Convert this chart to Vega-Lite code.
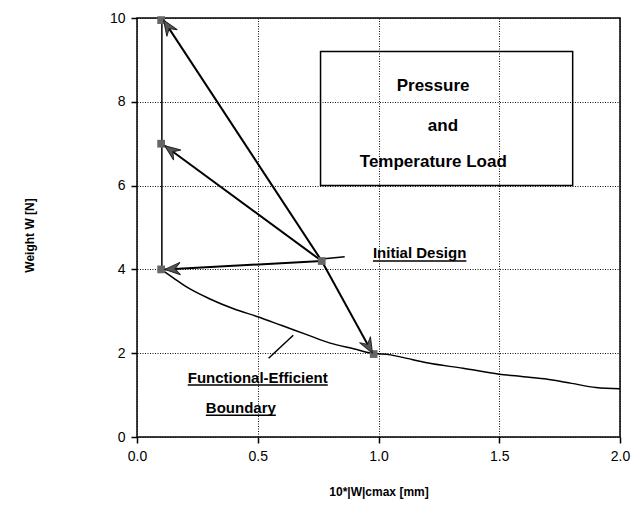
{
  "$schema": "https://vega.github.io/schema/vega-lite/v6.json",
  "width": 483,
  "height": 419,
  "autosize": {"type": "none"},
  "padding": {"left": 137, "top": 18, "right": 14, "bottom": 79},
  "background": "white",
  "config": {
    "font": "Liberation Sans",
    "view": {"stroke": "black", "strokeWidth": 1.5},
    "axis": {
      "domain": false,
      "grid": true,
      "gridColor": "#111",
      "gridDash": [1, 1.5],
      "gridOpacity": 1,
      "gridWidth": 1,
      "tickColor": "black",
      "tickSize": 6,
      "tickWidth": 1.5,
      "labelFlush": false,
      "labelFont": "Liberation Sans",
      "labelFontSize": 14,
      "labelColor": "black",
      "titleFont": "Liberation Sans",
      "titleFontSize": 12,
      "titleFontWeight": "bold",
      "titleColor": "black"
    }
  },
  "datasets": {
    "boundary": [
      {"x": 0.1, "y": 4.0}, {"x": 0.15, "y": 3.8}, {"x": 0.2, "y": 3.6},
      {"x": 0.3, "y": 3.3}, {"x": 0.4, "y": 3.06}, {"x": 0.5, "y": 2.87},
      {"x": 0.6, "y": 2.66}, {"x": 0.7, "y": 2.45}, {"x": 0.8, "y": 2.24},
      {"x": 0.9, "y": 2.1}, {"x": 0.97, "y": 2.0}, {"x": 1.05, "y": 1.96},
      {"x": 1.1, "y": 1.9}, {"x": 1.2, "y": 1.77}, {"x": 1.35, "y": 1.64},
      {"x": 1.5, "y": 1.5}, {"x": 1.6, "y": 1.44}, {"x": 1.7, "y": 1.38},
      {"x": 1.8, "y": 1.28}, {"x": 1.9, "y": 1.18}, {"x": 2.0, "y": 1.15}
    ],
    "segments": [
      {"x": 0.103, "y": 4.0, "x2": 0.103, "y2": 10.0},
      {"x": 0.765, "y": 4.25, "x2": 0.86, "y2": 4.3},
      {"x": 0.647, "y": 2.43, "x2": 0.545, "y2": 1.88}
    ],
    "arrows": [
      {"x": 0.765, "y": 4.2, "x2": 0.11, "y2": 9.95},
      {"x": 0.765, "y": 4.2, "x2": 0.115, "y2": 6.95},
      {"x": 0.765, "y": 4.2, "x2": 0.115, "y2": 4.0},
      {"x": 0.765, "y": 4.2, "x2": 0.975, "y2": 2.0}
    ],
    "squares": [
      {"x": 0.1, "y": 9.95}, {"x": 0.1, "y": 7.0}, {"x": 0.1, "y": 4.0},
      {"x": 0.98, "y": 1.98}, {"x": 0.765, "y": 4.2}
    ],
    "box": [{"x": 0.76, "y": 6.0, "x2": 1.804, "y2": 9.2}],
    "boxText": [
      {"x": 1.226, "y": 8.26, "label": "Pressure"},
      {"x": 1.267, "y": 7.31, "label": "and"},
      {"x": 1.227, "y": 6.45, "label": "Temperature Load"}
    ],
    "notes": [
      {"x": 0.5, "y": 1.29, "label": "Functional-Efficient"},
      {"x": 0.43, "y": 0.57, "label": "Boundary"}
    ],
    "underlines": [
      {"x": 0.977, "x2": 1.364, "y": 4.2},
      {"x": 0.21, "x2": 0.79, "y": 1.24},
      {"x": 0.285, "x2": 0.575, "y": 0.52}
    ]
  },
  "layer": [
    {
      "data": {"name": "boundary"},
      "mark": {"type": "line", "color": "black", "strokeWidth": 1.5, "interpolate": "monotone"},
      "encoding": {
        "x": {
          "field": "x", "type": "quantitative",
          "scale": {"domain": [0, 2], "nice": false},
          "axis": {"values": [0, 0.5, 1, 1.5, 2], "format": ".1f", "labelPadding": 6, "title": "10*|W|cmax [mm]", "titleY": 49}
        },
        "y": {
          "field": "y", "type": "quantitative",
          "scale": {"domain": [0, 10], "nice": false},
          "axis": {"values": [0, 2, 4, 6, 8, 10], "format": "d", "labelPadding": 6, "title": "Weight  W  [N]", "titleX": -101, "titleY": 217}
        }
      }
    },
    {
      "data": {"name": "segments"},
      "mark": {"type": "rule", "color": "black", "strokeWidth": 1.5},
      "encoding": {
        "x": {"field": "x", "type": "quantitative"},
        "y": {"field": "y", "type": "quantitative"},
        "x2": {"field": "x2"},
        "y2": {"field": "y2"}
      }
    },
    {
      "data": {"name": "arrows"},
      "mark": {"type": "rule", "color": "black", "strokeWidth": 2},
      "encoding": {
        "x": {"field": "x", "type": "quantitative"},
        "y": {"field": "y", "type": "quantitative"},
        "x2": {"field": "x2"},
        "y2": {"field": "y2"}
      }
    },
    {
      "data": {"name": "box"},
      "mark": {"type": "rect", "fill": null, "fillOpacity": 0, "stroke": "black", "strokeWidth": 1.5},
      "encoding": {
        "x": {"field": "x", "type": "quantitative"},
        "y": {"field": "y", "type": "quantitative"},
        "x2": {"field": "x2"},
        "y2": {"field": "y2"}
      }
    },
    {
      "data": {"name": "squares"},
      "mark": {"type": "point", "shape": "square", "filled": true, "color": "#666", "size": 60, "opacity": 1},
      "encoding": {
        "x": {"field": "x", "type": "quantitative"},
        "y": {"field": "y", "type": "quantitative"}
      }
    },
    {
      "data": {"name": "arrows"},
      "transform": [
        {"calculate": "atan2((datum.x2 - datum.x) * 241.5, (datum.y2 - datum.y) * 41.9) * 180 / PI", "as": "ang"}
      ],
      "mark": {"type": "point", "shape": "M0,0 L0.8,2 L0,1.3 L-0.8,2 Z", "filled": true, "fill": "#555", "fillOpacity": 1, "stroke": "#222", "strokeWidth": 1, "size": 240, "opacity": 1},
      "encoding": {
        "x": {"field": "x2", "type": "quantitative"},
        "y": {"field": "y2", "type": "quantitative"},
        "angle": {"field": "ang", "type": "quantitative", "scale": null}
      }
    },
    {
      "data": {"name": "underlines"},
      "mark": {"type": "rule", "color": "black", "strokeWidth": 1.5},
      "encoding": {
        "x": {"field": "x", "type": "quantitative"},
        "x2": {"field": "x2"},
        "y": {"field": "y", "type": "quantitative"}
      }
    },
    {
      "data": {"name": "boxText"},
      "mark": {"type": "text", "fontSize": 17, "fontWeight": "bold", "align": "center", "baseline": "alphabetic", "color": "black"},
      "encoding": {
        "x": {"field": "x", "type": "quantitative"},
        "y": {"field": "y", "type": "quantitative"},
        "text": {"field": "label"}
      }
    },
    {
      "data": {"name": "notes"},
      "mark": {"type": "text", "fontSize": 15, "fontWeight": "bold", "align": "center", "baseline": "alphabetic", "color": "black"},
      "encoding": {
        "x": {"field": "x", "type": "quantitative"},
        "y": {"field": "y", "type": "quantitative"},
        "text": {"field": "label"}
      }
    },
    {
      "data": {"values": [{"x": 0.977, "y": 4.27, "label": "Initial Design"}]},
      "mark": {"type": "text", "fontSize": 15, "fontWeight": "bold", "align": "left", "baseline": "alphabetic", "color": "black"},
      "encoding": {
        "x": {"field": "x", "type": "quantitative"},
        "y": {"field": "y", "type": "quantitative"},
        "text": {"field": "label"}
      }
    }
  ]
}
